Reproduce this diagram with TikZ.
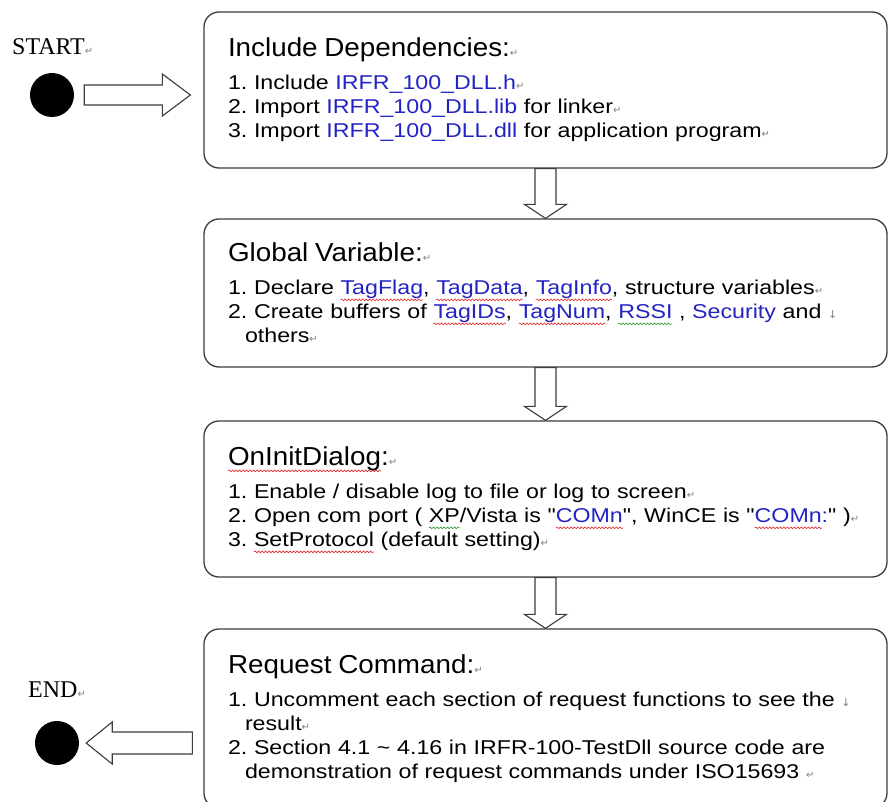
\documentclass[tikz,border=0pt]{standalone}
\usepackage{fontspec}
\usetikzlibrary{calc,decorations.pathmorphing}
\setmainfont{Liberation Sans}
\newfontfamily\bodyfont[FakeStretch=1.16]{Liberation Sans}
\newfontfamily\headfont[FakeStretch=1.07]{Liberation Sans}
\newfontfamily\markfont{Liberation Serif}
\newfontfamily\symfont{DejaVu Sans}
\definecolor{codeblue}{RGB}{35,35,195}
\definecolor{wavered}{RGB}{225,40,40}
\definecolor{wavegreen}{RGB}{40,150,40}
\definecolor{edge}{RGB}{60,60,60}
\frenchspacing

%% paragraph and line-break marks, blue names, spell-check waves
\newcommand\pmark{{\symfont\fontsize{10}{10}\selectfont\textcolor{gray}{↵}}}
\newcommand\lmark{{\symfont\fontsize{11}{11}\selectfont\textcolor{gray}{↓}}}
\newcommand\cb[1]{\textcolor{codeblue}{#1}}
\newsavebox\wavebox
\newcommand\wavy[2]{\sbox\wavebox{#2}\leavevmode\rlap{\tikz[overlay, x=1pt, y=1pt]
  \draw[#1, line width=0.6pt, sharp corners, decorate,
        decoration={snake, amplitude=0.9pt, segment length=3.5pt}]
  (0,-5) -- (\the\wd\wavebox,-5);}\usebox\wavebox}
\newcommand\boxtitle[1]{{\headfont\fontsize{26}{30}\selectfont #1}\pmark\\[9pt]}

\begin{document}
\begin{tikzpicture}[
    x=1pt, y=-1pt,
    box/.style={draw=edge, line width=1.3pt, rounded corners=15pt,
                minimum width=683pt, text width=635pt, inner xsep=24pt,
                align=left, font=\bodyfont\fontsize{20}{24}\selectfont},
    blob/.style={circle, fill=black, minimum size=44pt, inner sep=0pt},
    lbl/.style={font=\markfont\fontsize{24}{24}\selectfont, inner sep=0pt},
    hollow/.style 2 args={draw=edge, line width=1.1pt, line join=miter,
      to path={
        ($(\tikztostart)!#1!90:(\tikztotarget)$)
        -- ($(\tikztotarget)!#2!(\tikztostart)!#1!90:(\tikztotarget)$)
        -- ($(\tikztotarget)!#2!(\tikztostart)!21pt!90:(\tikztotarget)$)
        -- (\tikztotarget)
        -- ($(\tikztotarget)!#2!(\tikztostart)!21pt!-90:(\tikztotarget)$)
        -- ($(\tikztotarget)!#2!(\tikztostart)!#1!-90:(\tikztotarget)$)
        -- ($(\tikztostart)!#1!-90:(\tikztotarget)$)
        -- cycle}}
  ]
    \useasboundingbox (0,0) rectangle (888,802);
    \clip (0,0) rectangle (888,802);

    %% --- start / end ---
    \node[lbl, anchor=west] (starttxt) at (12,47) {START\pmark};
    \node[blob] (sdot) at (52,95) {};
    \node[lbl, anchor=west] (endtxt) at (28,690) {END\pmark};
    \node[blob] (edot) at (57,743) {};

    %% --- steps ---
    \node[box, minimum height=156pt] (deps) at (545.5,90) {%
      \boxtitle{Include Dependencies:}
      1. Include \cb{IRFR\_100\_DLL.h}\pmark\\
      2. Import \cb{IRFR\_100\_DLL.lib} for linker\pmark\\
      3. Import \cb{IRFR\_100\_DLL.dll} for application program\pmark};
    \node[box, minimum height=148pt] (vars) at (545.5,293) {%
      \boxtitle{Global Variable:}
      1. Declare \cb{\wavy{wavered}{TagFlag}}, \cb{\wavy{wavered}{TagData}},
      \cb{\wavy{wavered}{TagInfo}}, structure variables\pmark\\
      2. Create buffers of \cb{\wavy{wavered}{TagIDs}}, \cb{\wavy{wavered}{TagNum}},
      \cb{\wavy{wavegreen}{RSSI}} , \cb{Security} and \lmark\\
      \hspace*{17pt}others\pmark};
    \node[box, minimum height=156pt] (init) at (545.5,499) {%
      \boxtitle{\wavy{wavered}{OnInitDialog}:}
      1. Enable / disable log to file or log to screen\pmark\\
      2. Open com port ( \wavy{wavegreen}{XP}/Vista is "\cb{\wavy{wavered}{COMn}}",
      WinCE is "\cb{\wavy{wavered}{COMn}:}" )\pmark\\
      3. \wavy{wavered}{SetProtocol} (default setting)\pmark};
    \node[box, minimum height=179pt] (req) at (545.5,718.5) {%
      \boxtitle{Request Command:}
      1. Uncomment each section of request functions to see the \lmark\\
      \hspace*{17pt}result\pmark\\
      2. Section 4.1 \textasciitilde{} 4.16 in IRFR-100-TestDll source code are\\
      \hspace*{17pt}demonstration of request commands under ISO15693 \pmark};

    %% --- hollow arrows ---
    \draw[hollow={10pt}{28pt}] ($(sdot.east)+(10,0)$) to ($(deps.west |- sdot)+(-13,0)$);
    \draw[hollow={10.5pt}{14pt}] (deps.south) to (vars.north);
    \draw[hollow={10.5pt}{14pt}] (vars.south) to (init.north);
    \draw[hollow={10.5pt}{14pt}] (init.south) to (req.north);
    \draw[hollow={11pt}{26pt}] ($(req.west |- edot)+(-11,0)$) to ($(edot.east)+(7,0)$);
\end{tikzpicture}
\end{document}
